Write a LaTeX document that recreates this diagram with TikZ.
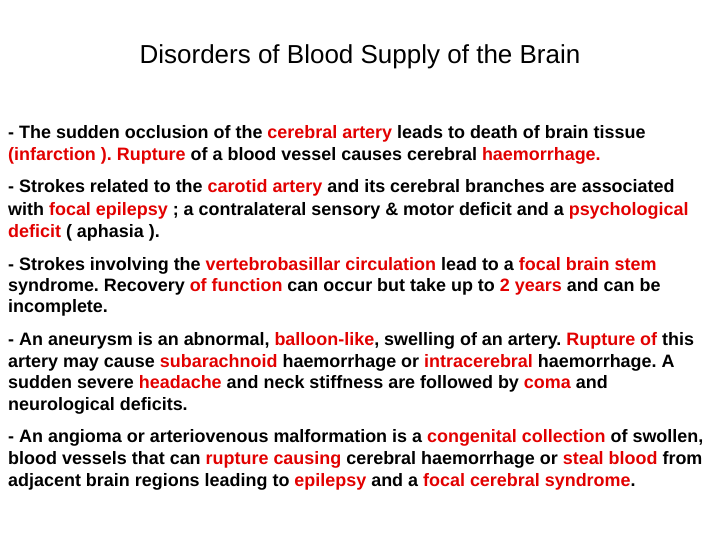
\documentclass[tikz,border=0pt]{standalone}
\usepackage{fontspec}
\setmainfont{Liberation Sans}
\frenchspacing
\definecolor{hl}{RGB}{226,0,0}
\newcommand{\hlt}[1]{\textcolor{hl}{#1}}
\begin{document}
\begin{tikzpicture}[x=1pt,y=-1pt,
  ln/.style={anchor=base west,inner sep=0pt,font=\fontsize{17.95}{21}\selectfont\bfseries\frenchspacing}]
\useasboundingbox[fill=white] (0,0) rectangle (720,540);
\node[anchor=base,inner sep=0pt,font=\fontsize{26}{30}\selectfont] (t) at (360,64) {Disorders of Blood Supply of the Brain};
\node[ln] (a1) at (8,139) {- The sudden occlusion of the \hlt{cerebral artery} leads to death of brain tissue};
\node[ln] (a2) at (8,161) {\hlt{(infarction ).} \hlt{Rupture} of a blood vessel causes cerebral \hlt{haemorrhage.}};
\node[ln] (b1) at (8,193) {- Strokes related to the \hlt{carotid artery} and its cerebral branches are associated};
\node[ln] (b2) at (8,215) {with \hlt{focal epilepsy} ; a contralateral sensory \& motor deficit and a \hlt{psychological}};
\node[ln] (b3) at (8,237) {\hlt{deficit} ( aphasia ).};
\node[ln] (c1) at (8,270) {- Strokes involving the \hlt{vertebrobasillar circulation} lead to a \hlt{focal brain stem}};
\node[ln] (c2) at (8,291) {syndrome. Recovery \hlt{of function} can occur but take up to \hlt{2 years} and can be};
\node[ln] (c3) at (8,312) {incomplete.};
\node[ln] (d1) at (8,345) {- An aneurysm is an abnormal, \hlt{balloon-like}, swelling of an artery. \hlt{Rupture of} this};
\node[ln] (d2) at (8,367) {artery may cause \hlt{subarachnoid} haemorrhage or \hlt{intracerebral} haemorrhage. A};
\node[ln] (d3) at (8,388) {sudden severe \hlt{headache} and neck stiffness are followed by \hlt{coma} and};
\node[ln] (d4) at (8,410) {neurological deficits.};
\node[ln] (e1) at (8,442) {- An angioma or arteriovenous malformation is a \hlt{congenital collection} of swollen,};
\node[ln] (e2) at (8,464) {blood vessels that can \hlt{rupture causing} cerebral haemorrhage or \hlt{steal blood} from};
\node[ln] (e3) at (8,486) {adjacent brain regions leading to \hlt{epilepsy} and a \hlt{focal cerebral syndrome}.};
\end{tikzpicture}
\end{document}
